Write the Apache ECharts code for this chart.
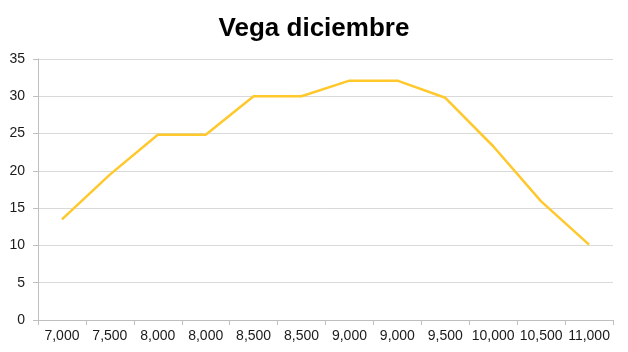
<!DOCTYPE html>
<html>
<head>
<meta charset="utf-8">
<script src="https://cdn.jsdelivr.net/npm/echarts@6/dist/echarts.min.js"></script>
<style>
  html, body { margin: 0; padding: 0; background: #fff; }
  #chart { width: 628px; height: 352px; }
</style>
</head>
<body>
<div id="chart"></div>
<script>
const categories = ["7,000", "7,500", "8,000", "8,000", "8,500", "8,500", "9,000", "9,000", "9,500", "10,000", "10,500", "11,000"];
const vega = [13.5, 19.5, 24.85, 24.85, 30.0, 30.0, 32.1, 32.1, 29.8, 23.3, 15.9, 10.1];

const chart = echarts.init(document.getElementById("chart"));

const option = {
  animation: false,
  title: {
    text: "Vega diciembre",
    left: "center",
    top: 11,
    textStyle: {
      fontFamily: "Liberation Sans",
      fontSize: 26,
      fontWeight: "bold",
      color: "#000",
    },
  },
  grid: {
    left: 38,
    right: 15,
    top: 59,
    bottom: 32,
  },
  xAxis: {
    type: "category",
    data: categories,
    boundaryGap: true,
    axisLine: { lineStyle: { color: "#bfbfbf", width: 1 } },
    axisTick: { show: true, length: 5, lineStyle: { color: "#bfbfbf" } },
    axisLabel: {
      interval: 0,
      margin: 9,
      fontFamily: "Liberation Sans",
      fontSize: 14,
      color: "#1a1a1a",
    },
  },
  yAxis: {
    type: "value",
    min: 0,
    max: 35,
    interval: 5,
    axisLine: { show: true, lineStyle: { color: "#bfbfbf", width: 1 } },
    axisTick: { show: true, length: 5, lineStyle: { color: "#bfbfbf" } },
    splitLine: { lineStyle: { color: "#d9d9d9", width: 1 } },
    axisLabel: {
      margin: 13,
      fontFamily: "Liberation Sans",
      fontSize: 14,
      color: "#1a1a1a",
    },
  },
  series: [
    {
      type: "line",
      data: vega,
      symbol: "none",
      lineStyle: { color: "#FFC82C", width: 2.5 },
      itemStyle: { color: "#FFC82C" },
    },
  ],
};

chart.setOption(option);
</script>
</body>
</html>
